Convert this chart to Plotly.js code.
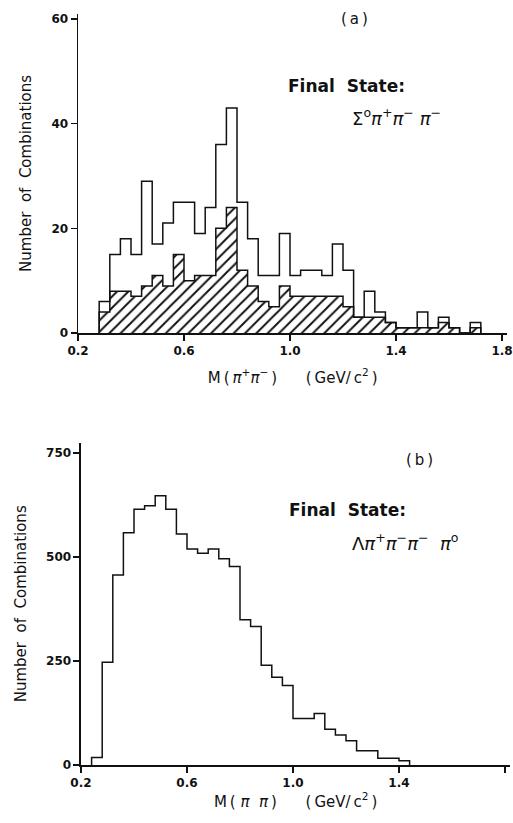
<!DOCTYPE html>
<html>
<head>
<meta charset="utf-8">
<script src="https://cdn.plot.ly/plotly-3.0.1.min.js"></script>
<style>
  html, body { margin: 0; padding: 0; background: #fff; }
  #chart { width: 513px; height: 823px; }
</style>
</head>
<body>
<div id="chart"></div>
<script>
// ---- Data ----
// (a) Final state Σ0 π+ π- π- : M(π+π-), bins of 0.04 GeV/c² (left edges)
const topBinEdges = [0.28,0.32,0.36,0.40,0.44,0.48,0.52,0.56,0.60,0.64,0.68,0.72,0.76,0.80,0.84,0.88,0.92,0.96,
                     1.00,1.04,1.08,1.12,1.16,1.20,1.24,1.28,1.32,1.36,1.40,1.44,1.48,1.52,1.56,1.60,1.64,1.68];
const topAllCounts = [6,15,18,15,29,17,21,25,25,19,24,36,43,25,18,11,11,19,
                      11,12,12,11,17,12,3,8,4,2,1,1,4,1,3,1,0,2];
const topHatchedCounts = [4,8,8,7,9,11,9,15,10,11,11,20,24,12,9,6,5,9,
                          7,7,7,7,7,5,3,3,3,2,1,1,1,1,2,1,0,1];

// (b) Final state Λ π+ π- π- π0 : M(ππ)
const bottomBinEdges = [0.24,0.28,0.32,0.36,0.40,0.44,0.48,0.52,0.56,0.60,0.64,0.68,0.72,0.76,0.80,
                        0.84,0.88,0.92,0.96,1.00,1.04,1.08,1.12,1.16,1.20,1.24,1.28,1.32,1.36,1.40];
const bottomCounts = [18,247,457,558,615,623,647,615,555,519,509,519,496,477,349,
                      333,240,211,191,112,112,124,86,72,58,34,34,16,16,10];
const binWidth = 0.04;

const xTickVals = [0.2, 0.6, 1.0, 1.4, 1.8];
const xTickText = ["0.2", "0.6", "1.0", "1.4", "1.8"];
const topYTicks = [0, 20, 40, 60];
const bottomYTicks = [0, 250, 500, 750];

// ---- helpers: build a histogram step outline from bin edges + counts ----
function stepXY(edges, counts, w) {
  const x = [edges[0]].concat(edges).concat([edges[edges.length - 1] + w]);
  const y = [0].concat(counts).concat([0]);
  return { x, y };
}

const FONT = "DejaVu Sans";
const INK = "#111";
const TS = "\u2009";   // thin space
const NB = "\u00A0";   // no-break space

const sTopHatch = stepXY(topBinEdges, topHatchedCounts, binWidth);
const sTopAll = stepXY(topBinEdges, topAllCounts, binWidth);
const sBottom = stepXY(bottomBinEdges, bottomCounts, binWidth);

const traces = [
  {
    type: "scatter", mode: "lines", x: sTopHatch.x, y: sTopHatch.y,
    xaxis: "x", yaxis: "y",
    line: { shape: "hv", color: INK, width: 1.5 },
    fill: "tozeroy", fillcolor: "#fff",
    fillpattern: { shape: "/", fgcolor: INK, bgcolor: "#fff", size: 8, solidity: 0.24 },
    hoverinfo: "skip", showlegend: false
  },
  {
    type: "scatter", mode: "lines", x: sTopAll.x, y: sTopAll.y,
    xaxis: "x", yaxis: "y",
    line: { shape: "hv", color: INK, width: 1.5 },
    hoverinfo: "skip", showlegend: false
  },
  {
    type: "scatter", mode: "lines", x: sBottom.x, y: sBottom.y,
    xaxis: "x2", yaxis: "y2",
    line: { shape: "hv", color: INK, width: 1.5 },
    hoverinfo: "skip", showlegend: false
  }
];

const axisCommon = {
  showline: true, linecolor: INK, linewidth: 1.5, mirror: false,
  showgrid: false, zeroline: false,
  ticks: "outside", ticklen: 6, tickwidth: 1.5, tickcolor: INK,
  tickfont: { family: FONT, size: 12, color: INK, weight: "bold" }
};

const xTitleFont = { family: FONT, size: 15, color: INK };
const yTitleFont = { family: FONT, size: 15, color: INK };

const topXTitle = "M" + TS + "(" + TS + "<i>π</i><sup>+</sup><i>π</i><sup>−</sup>" + TS + ")" +
                  NB + NB + NB + NB + NB + NB + "(" + TS + "GeV/" + TS + "c<sup>2</sup>" + TS + ")";
const bottomXTitle = "M" + TS + "(" + NB + "<i>π</i>" + NB + NB + "<i>π</i>" + TS + ")" +
                  NB + NB + NB + NB + NB + NB + "(" + TS + "GeV/" + TS + "c<sup>2</sup>" + TS + ")";

const layout = {
  width: 513, height: 823,
  paper_bgcolor: "#fff", plot_bgcolor: "rgba(0,0,0,0)",
  margin: { l: 0, r: 0, t: 0, b: 0 },
  font: { family: FONT, color: INK },
  showlegend: false,
  xaxis: Object.assign({}, axisCommon, {
    domain: [0.15205, 0.98889], range: [0.2, 1.82], anchor: "y",
    tickvals: xTickVals, ticktext: xTickText,
    title: { text: topXTitle, font: xTitleFont, standoff: 15 }
  }),
  yaxis: Object.assign({}, axisCommon, {
    domain: [0.59538, 0.98323], range: [0, 61], anchor: "x",
    tickvals: topYTicks,
    title: { text: "Number" + NB + " of" + NB + " Combinations", font: yTitleFont, standoff: 16 }
  }),
  xaxis2: Object.assign({}, axisCommon, {
    domain: [0.15789, 0.99474], range: [0.2, 1.82], anchor: "y2",
    tickvals: xTickVals, ticktext: xTickText,
    title: { text: bottomXTitle, font: xTitleFont, standoff: 7 }
  }),
  yaxis2: Object.assign({}, axisCommon, {
    domain: [0.07047, 0.46221], range: [0, 775], anchor: "x2",
    tickvals: bottomYTicks,
    title: { text: "Number" + NB + " of" + NB + " Combinations", font: yTitleFont, standoff: 16 }
  }),
  annotations: [
    { xref: "x", yref: "y", x: 1.245, y: 60, text: "(" + TS + "a" + TS + ")", showarrow: false,
      xanchor: "center", yanchor: "middle", font: { family: FONT, size: 15, color: INK } },
    { xref: "x", yref: "y", x: 0.985, y: 47.2, text: "Final" + NB + " State:", showarrow: false,
      xanchor: "left", yanchor: "middle", font: { family: FONT, size: 17, color: INK, weight: "bold" } },
    { xref: "x", yref: "y", x: 1.226, y: 41.3,
      text: "Σ<sup>o</sup><i>π</i><sup>+</sup><i>π</i><sup>−</sup>" + NB + "<i>π</i><sup>−</sup>", showarrow: false,
      xanchor: "left", yanchor: "middle", font: { family: FONT, size: 18, color: INK } },
    { xref: "x2", yref: "y2", x: 1.479, y: 733, text: "(" + TS + "b" + TS + ")", showarrow: false,
      xanchor: "center", yanchor: "middle", font: { family: FONT, size: 15, color: INK } },
    { xref: "x2", yref: "y2", x: 0.977, y: 613, text: "Final" + NB + " State:", showarrow: false,
      xanchor: "left", yanchor: "middle", font: { family: FONT, size: 17, color: INK, weight: "bold" } },
    { xref: "x2", yref: "y2", x: 1.215, y: 536,
      text: "Λ<i>π</i><sup>+</sup><i>π</i><sup>−</sup><i>π</i><sup>−</sup>" + NB + NB + "<i>π</i><sup>o</sup>", showarrow: false,
      xanchor: "left", yanchor: "middle", font: { family: FONT, size: 18, color: INK } }
  ]
};

Plotly.newPlot("chart", traces, layout, { staticPlot: true, displayModeBar: false });
</script>
</body>
</html>
